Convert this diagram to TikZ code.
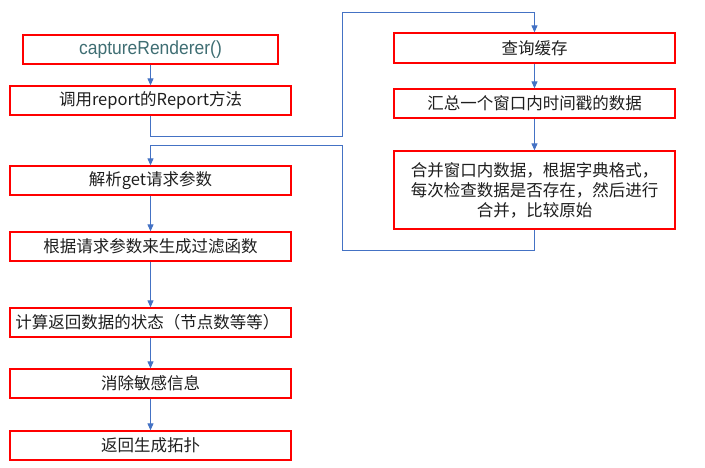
\documentclass[tikz,border=0pt]{standalone}
\usepackage{fontspec}
\newfontfamily\cjk{Noto Sans CJK SC}
\newfontfamily\capfont[FakeStretch=0.92]{Liberation Sans}
\usetikzlibrary{arrows.meta}
\definecolor{boxred}{RGB}{255,0,0}
\definecolor{linkblue}{RGB}{68,114,196}
\definecolor{capteal}{RGB}{63,110,115}
\definecolor{txtgray}{RGB}{30,30,30}
\tikzset{
  stepbox/.style={draw=boxred, line width=1.3pt, inner sep=0pt, minimum width=281pt, minimum height=29pt,
    font=\cjk\fontsize{16.5}{20}\selectfont, text=txtgray, align=center},
  link/.style={draw=linkblue, line width=1pt},
  arrowlink/.style={link, -{Triangle[width=6pt,length=7pt]}},
}
\begin{document}
\begin{tikzpicture}[x=1pt,y=-1pt]
\useasboundingbox (0,0) rectangle (705,467);
% left column
\node[stepbox, minimum width=255pt, font=\capfont\fontsize{19}{22}\selectfont, text=capteal] (b1) at (150.5,49.5) {captureRenderer()};
\node[stepbox] (b2) at (150.5,100.5) {调用report的Report方法};
\node[stepbox] (b6) at (150.5,180.5) {解析get请求参数};
\node[stepbox] (b7) at (150.5,246.5) {根据请求参数来生成过滤函数};
\node[stepbox] (b8) at (150.5,322.5) {\hspace*{-6pt}计算返回数据的状态（节点数等等）};
\node[stepbox] (b9) at (150.5,383.5) {消除敏感信息};
\node[stepbox] (b10) at (150.5,445.5) {返回生成拓扑};
% right column
\node[stepbox, minimum height=30pt] (b3) at (534.5,48) {查询缓存};
\node[stepbox] (b4) at (534.5,103.5) {汇总一个窗口内时间戳的数据};
\node[stepbox, minimum height=78pt, text width=260pt] (b5) at (534.5,190) {合并窗口内数据，根据字典格式，\\每次检查数据是否存在，然后进行\\合并，比较原始};
% routing coordinates
\coordinate (r1) at (150.5,136);
\coordinate (r2) at (342,136);
\coordinate (r3) at (342,12);
\coordinate (r4) at (534.5,12);
\coordinate (s1) at (534.5,250);
\coordinate (s2) at (342,250);
\coordinate (s3) at (342,145);
\coordinate (s4) at (150.5,145);
% connectors
\draw[arrowlink] (b1) -- (b2);
\draw[arrowlink] (b2.south) -- (r1) -- (r2) -- (r3) -- (r4) -- (b3.north);
\draw[arrowlink] (b3) -- (b4);
\draw[arrowlink] (b4) -- (b5);
\draw[arrowlink] (b5.south) -- (s1) -- (s2) -- (s3) -- (s4) -- (b6.north);
\draw[arrowlink] (b6) -- (b7);
\draw[arrowlink] (b7) -- (b8);
\draw[arrowlink] (b8) -- (b9);
\draw[arrowlink] (b9) -- (b10);
\end{tikzpicture}
\end{document}
